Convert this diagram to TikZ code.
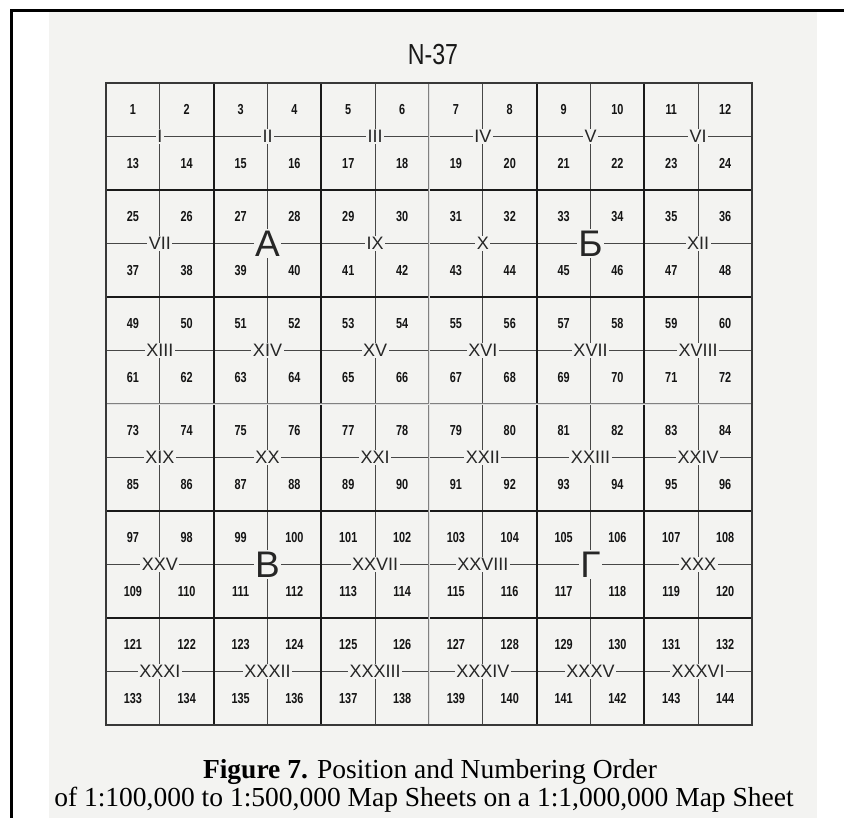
\documentclass[tikz,border=0pt]{standalone}
\usepackage{fontspec}
\setmainfont{Liberation Serif}
\newfontfamily\numfont[FakeStretch=0.75]{Liberation Sans}
\newfontfamily\romfont{Liberation Sans}
\newfontfamily\titfont[FakeStretch=0.8]{Liberation Sans}
\definecolor{paper}{HTML}{F3F3F1}
\newcommand\bigcyr[1]{{\fontsize{37}{37}\selectfont #1}}
\begin{document}
\begin{tikzpicture}[x=1pt,y=-1pt,
  thinline/.style={line width=0.9pt, draw=black!72},
  thickline/.style={line width=2.3pt, draw=black!90},
  foldline/.style={line width=2.6pt, draw=black!50},
  foldinner/.style={line width=0.7pt, draw=black!12},
  outerline/.style={line width=1.6pt, draw=black!78},
  framestyle/.style={line width=2.7pt, draw=black},
  numstyle/.style={font=\numfont\bfseries\fontsize{14.5}{15}\selectfont, text=black!92, inner sep=0pt},
  romstyle/.style={font=\romfont\fontsize{18}{18}\selectfont, text=black!85, fill=paper, inner sep=1.6pt},
  titlestyle/.style={font=\titfont\fontsize{29}{29}\selectfont, text=black!90, inner sep=0pt},
  capstyle/.style={font=\fontsize{27.5}{29}\selectfont, text=black, inner sep=0pt, anchor=base}
]
\useasboundingbox (0,0) rectangle (844,818);
\fill[paper] (49,12) rectangle (817,818);
\draw[framestyle] (11.5,818) -- (11.5,10.5) -- (844,10.5);

\def\gx{106}\def\gw{53.8333}\def\gy{83}\def\gh{53.5}
% thin inner cross lines
\foreach \i in {1,3,5,7,9,11}{
  \draw[thinline] ({\gx+\i*\gw},\gy) -- ({\gx+\i*\gw},725);
  \draw[thinline] (\gx,{\gy+\i*\gh}) -- (752,{\gy+\i*\gh});
}
% thick block lines
\foreach \i in {2,4,8,10}{
  \draw[thickline] ({\gx+\i*\gw},\gy) -- ({\gx+\i*\gw},725);
  \draw[thickline] (\gx,{\gy+\i*\gh}) -- (752,{\gy+\i*\gh});
}
% centre fold lines
\draw[foldline] ({\gx+6*\gw},\gy) -- ({\gx+6*\gw},725);
\draw[foldline] (\gx,{\gy+6*\gh}) -- (752,{\gy+6*\gh});
\draw[foldinner] ({\gx+6*\gw},\gy) -- ({\gx+6*\gw},725);
\draw[foldinner] (\gx,{\gy+6*\gh}) -- (752,{\gy+6*\gh});
\draw[outerline] (\gx,\gy) rectangle (752,725);

% sheet numbers
\foreach \r in {0,...,11}{
  \foreach \c in {0,...,11}{
    \pgfmathtruncatemacro\n{\r*12+\c+1}
    \node[numstyle] (n\n) at ({\gx+(\c+0.5)*\gw},{\gy+(\r+0.5)*\gh}) {\n};
  }
}

% block labels
\foreach \lab [count=\k from 0] in {I,II,III,IV,V,VI,
  VII,\bigcyr{А},IX,X,\bigcyr{Б},XII,
  XIII,XIV,XV,XVI,XVII,XVIII,
  XIX,XX,XXI,XXII,XXIII,XXIV,
  XXV,\bigcyr{В},XXVII,XXVIII,\bigcyr{Г},XXX,
  XXXI,XXXII,XXXIII,XXXIV,XXXV,XXXVI}{
  \pgfmathtruncatemacro\br{int(\k/6)}
  \pgfmathtruncatemacro\bc{mod(\k,6)}
  \node[romstyle] (lab\k) at ({\gx+(2*\bc+1)*\gw},{\gy+(2*\br+1)*\gh}) {\lab};
}

% title
\node[titlestyle] (title) at (433,55) {N-37};

% caption
\node[capstyle] (cap1) at (430,778) {\textbf{Figure 7.} Position and Numbering Order};
\node[capstyle] (cap2) at (424,806) {of 1:100,000 to 1:500,000 Map Sheets on a 1:1,000,000 Map Sheet};
\end{tikzpicture}
\end{document}
